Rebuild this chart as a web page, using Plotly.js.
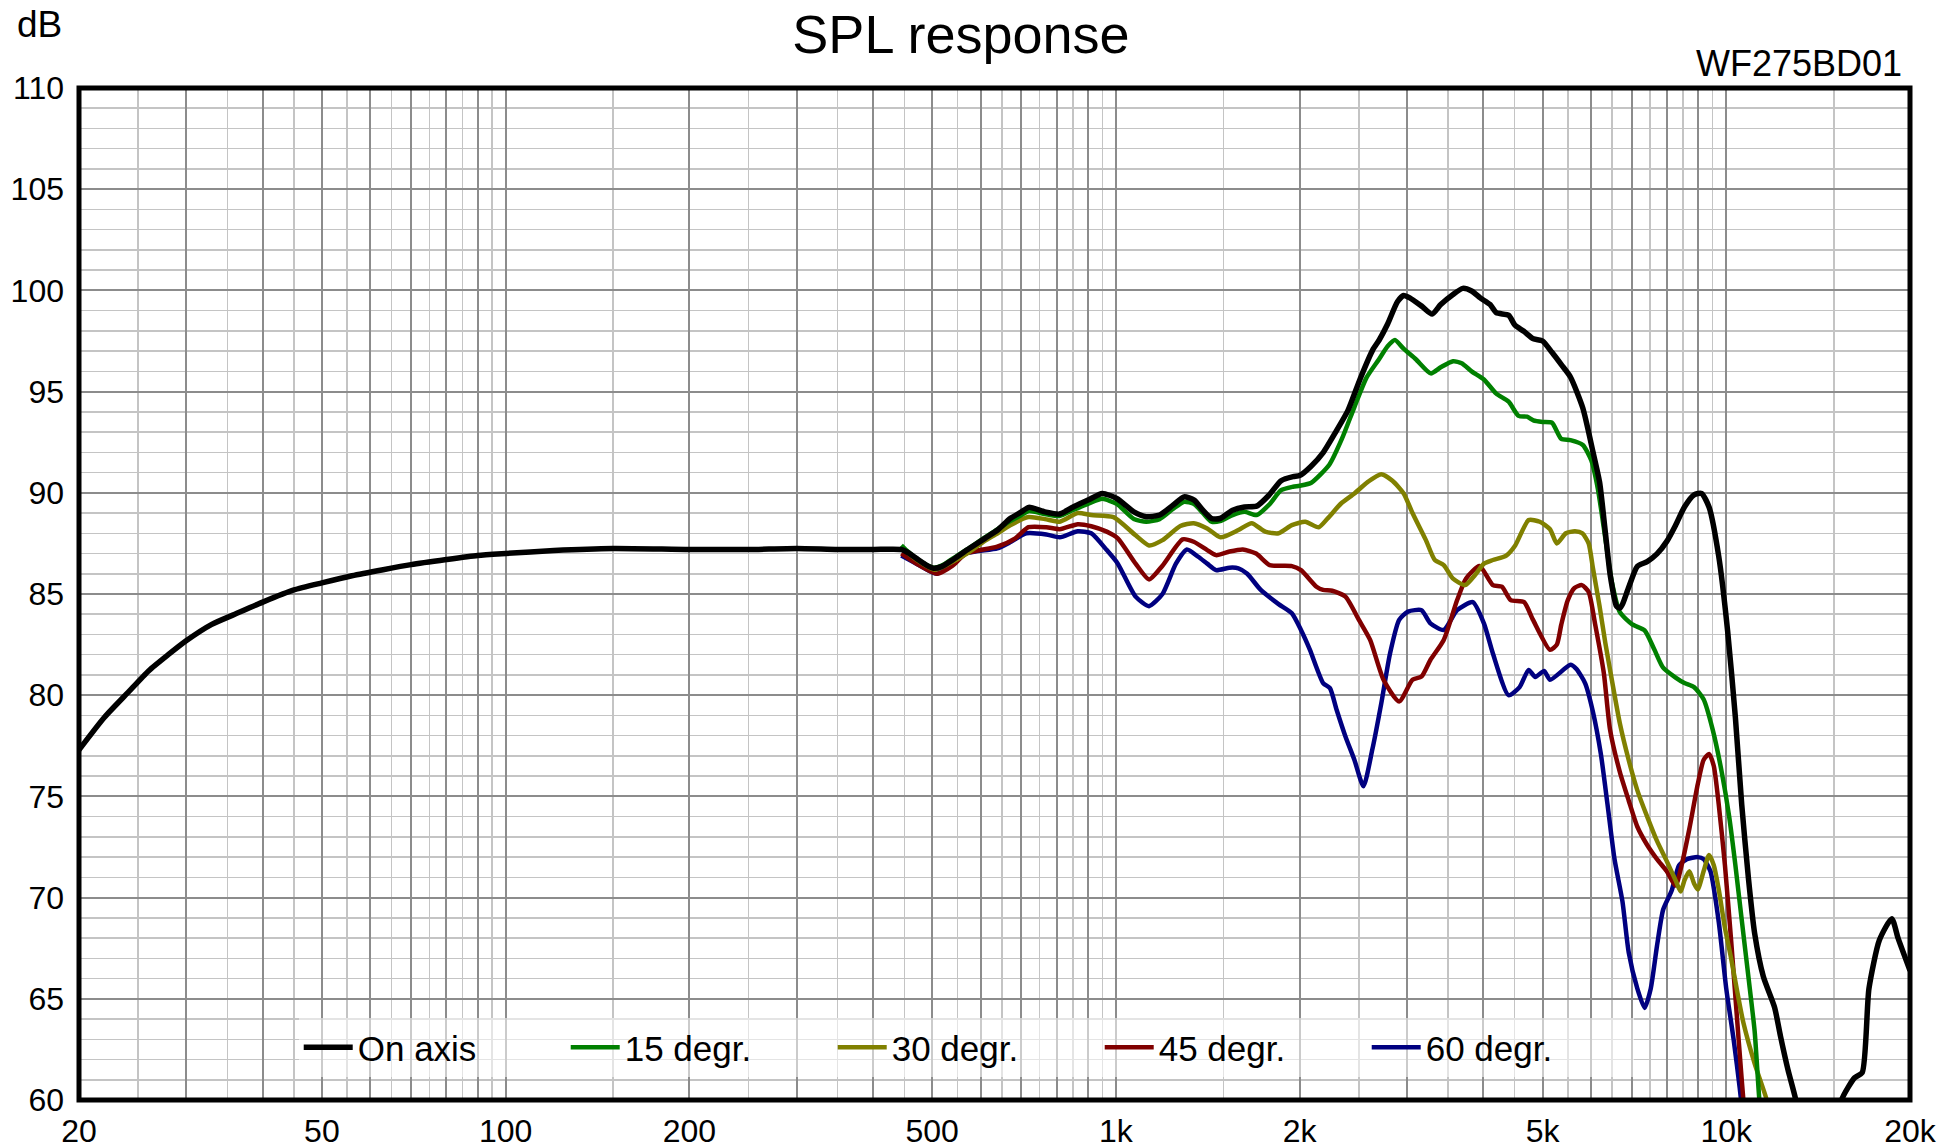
<!DOCTYPE html>
<html>
<head>
<meta charset="utf-8">
<script src="https://cdn.plot.ly/plotly-3.0.1.min.js"></script>
<style>
html,body{margin:0;padding:0;background:#fff;}
#chart{width:1939px;height:1148px;}
</style>
</head>
<body>
<div id="chart"></div>
<script>
// ---------- data ----------
const seriesNames = ["On axis", "15 degr.", "30 degr.", "45 degr.", "60 degr."];
const seriesColors = ["#000000", "#008000", "#808000", "#800000", "#000080"];

const onAxisFreq = [20,22,24,26,28,30,33,36,40,45,50,56,63,70,80,90,100,120,150,200,250,300,350,400,445,456,471,489,503,518,540,570,610,640,671,700,720,765,808,851,900,950,1003,1070,1121,1179,1240,1293,1343,1388,1434,1481,1553,1624,1700,1781,1865,1951,2000,2086,2187,2291,2400,2515,2635,2700,2787,2892,2960,3030,3175,3296,3405,3567,3700,3826,3953,4103,4199,4400,4505,4659,4830,5000,5181,5367,5555,5820,6045,6200,6335,6454,6607,6694,6762,6920,7150,7420,7699,7990,8260,8540,8855,9110,9370,9720,10050,10350,10600,10870,11130,11500,12000,12270,12620,13000,13700,14790,15450,16230,16700,17130,17820,18670,19120,20000];
const onAxisDb = [77.3,78.9,80.1,81.2,82.0,82.7,83.5,84.0,84.6,85.2,85.55,85.9,86.2,86.45,86.7,86.9,87.0,87.15,87.25,87.2,87.2,87.25,87.2,87.2,87.2,87.05,86.76,86.43,86.27,86.35,86.68,87.17,87.75,88.16,88.73,89.06,89.28,89.06,88.95,89.3,89.64,89.97,89.72,89.06,88.82,88.9,89.39,89.8,89.64,89.14,88.73,88.73,89.14,89.3,89.34,89.88,90.6,90.8,90.85,91.3,92.0,93.0,94.07,95.66,97.06,97.55,98.34,99.44,99.75,99.63,99.2,98.83,99.3,99.8,100.1,99.97,99.63,99.3,98.9,98.77,98.28,97.98,97.61,97.5,96.94,96.33,95.72,94.19,92.05,90.53,88.08,85.94,84.41,84.3,84.5,85.33,86.37,86.6,86.98,87.6,88.4,89.3,89.9,89.97,89.3,86.86,83.19,78.9,74.6,70.98,68.23,66.1,64.57,63.15,61.5,60.0,56.0,56.0,60.0,61.1,61.35,65.5,67.9,68.96,68.0,66.4];

const deg15Freq = [445,456,471,489,503,518,540,570,610,640,671,700,720,765,808,851,900,950,1003,1070,1121,1179,1240,1293,1343,1388,1434,1481,1553,1624,1700,1781,1865,1951,2000,2090,2238,2345,2456,2575,2698,2787,2865,2960,3100,3280,3405,3567,3685,3826,4008,4199,4400,4567,4717,4830,5000,5181,5367,5555,5820,6010,6160,6335,6490,6694,7013,7348,7620,7880,8260,8540,8855,9180,9500,9830,10110,10350,10600,10870,11130,11330,11600];
const deg15Db = [87.4,87.1,86.76,86.45,86.3,86.4,86.75,87.2,87.8,88.2,88.6,88.9,89.1,88.95,88.85,89.15,89.45,89.7,89.45,88.7,88.57,88.7,89.2,89.56,89.45,89.0,88.57,88.6,88.9,89.06,88.9,89.4,90.13,90.3,90.35,90.5,91.4,92.66,94.2,95.7,96.6,97.24,97.55,97.12,96.6,95.9,96.2,96.5,96.4,96.0,95.6,94.9,94.5,93.8,93.76,93.58,93.5,93.46,92.66,92.6,92.36,91.6,90.2,87.77,85.63,84.1,83.5,83.2,82.27,81.36,80.87,80.6,80.4,79.8,78.3,76.2,74.0,71.6,68.9,66.1,63.4,60.0,57.0];

const deg30Freq = [445,471,505,540,570,608,640,671,719,765,809,866,911,991,1077,1133,1192,1275,1341,1411,1484,1587,1669,1756,1847,1942,2043,2149,2222,2338,2459,2587,2721,2838,2961,3061,3220,3330,3444,3563,3734,3876,4008,4145,4360,4510,4744,4948,5143,5277,5460,5650,5810,5950,6045,6200,6335,6490,6694,6920,7150,7420,7699,7990,8260,8420,8540,8700,8855,8980,9180,9370,9540,9720,9950,10184,10430,10670,11130,11650,12000];
const deg30Db = [87.3,86.7,86.2,86.6,87.0,87.6,88.0,88.4,88.8,88.7,88.57,89.0,88.9,88.8,87.9,87.4,87.66,88.36,88.5,88.24,87.8,88.16,88.5,88.08,88.0,88.4,88.57,88.3,88.73,89.47,89.97,90.54,90.92,90.6,89.97,89.0,87.66,86.68,86.43,85.77,85.44,85.94,86.5,86.68,86.9,87.4,88.65,88.57,88.2,87.5,88.0,88.1,88.0,87.5,86.3,84.4,82.6,80.8,78.6,76.8,75.3,74.0,72.8,71.8,70.85,70.3,70.85,71.3,70.7,70.4,71.3,72.1,71.6,70.4,68.5,67.0,65.3,63.8,61.8,60.0,58.0];

const deg45Freq = [445,471,509,540,568,639,684,719,769,809,866,911,966,1007,1077,1133,1192,1286,1341,1411,1459,1535,1614,1697,1786,1942,2010,2131,2185,2261,2377,2501,2609,2744,2911,3061,3167,3275,3444,3623,3747,3941,4145,4288,4435,4664,4824,5143,5277,5367,5500,5640,5800,5950,6098,6300,6450,6694,6920,7150,7420,7699,7990,8260,8450,8700,8980,9180,9370,9540,9720,9950,10184,10380,10600,10870];
const deg45Db = [87.0,86.5,86.0,86.4,87.0,87.34,87.75,88.3,88.3,88.2,88.45,88.35,88.08,87.75,86.5,85.72,86.4,87.7,87.58,87.17,86.92,87.1,87.2,87.0,86.43,86.38,86.18,85.36,85.2,85.16,84.87,83.72,82.73,80.76,79.69,80.76,80.92,81.74,82.73,84.7,85.77,86.38,85.44,85.36,84.7,84.6,83.72,82.24,82.5,83.5,84.7,85.3,85.44,85.1,83.5,81.1,78.3,76.2,74.8,73.5,72.6,71.9,71.3,70.6,71.6,73.4,75.6,76.8,77.1,76.5,74.6,71.6,67.9,64.6,61.0,57.0];

const deg60Freq = [445,471,509,568,639,673,713,769,809,866,911,966,1007,1077,1133,1192,1254,1307,1364,1411,1459,1535,1587,1641,1727,1847,1942,2010,2079,2185,2242,2299,2377,2459,2544,2630,2721,2813,2911,3010,3167,3275,3444,3623,3843,4008,4145,4398,4586,4744,4866,5030,5143,5555,5680,5870,6045,6230,6389,6560,6760,6920,7150,7348,7520,7699,7880,8140,8370,8620,8980,9180,9420,9720,10000,10280,10520,10800];
const deg60Db = [86.9,86.5,86.0,87.0,87.25,87.58,88.0,87.94,87.8,88.1,88.0,87.17,86.5,84.87,84.4,85.0,86.5,87.2,86.84,86.5,86.18,86.3,86.27,86.0,85.2,84.5,84.05,83.22,82.24,80.6,80.35,79.28,77.96,76.8,75.5,77.3,79.6,82.07,83.72,84.13,84.2,83.55,83.22,84.2,84.6,83.55,82.07,80.0,80.4,81.25,80.9,81.2,80.76,81.5,81.3,80.6,79.2,77.1,74.6,71.9,69.8,67.3,65.5,64.55,65.5,67.6,69.4,70.35,71.6,71.9,72.0,71.9,71.3,68.8,65.5,63.0,60.6,57.5];

const allFreq = [onAxisFreq, deg15Freq, deg30Freq, deg45Freq, deg60Freq];
const allDb = [onAxisDb, deg15Db, deg30Db, deg45Db, deg60Db];

const xLabelVals = [20, 50, 100, 200, 500, 1000, 2000, 5000, 10000, 20000];
const xLabelText = ["20", "50", "100", "200", "500", "1k", "2k", "5k", "10k", "20k"];
const yLabelVals = [60, 65, 70, 75, 80, 85, 90, 95, 100, 105, 110];
const yLabelText = ["60", "65", "70", "75", "80", "85", "90", "95", "100", "105", "110"];

// ---------- grid construction ----------
const majorX = [], minorX = [];
[10, 100, 1000, 10000].forEach(d => {
  for (let k = 1; k <= 9; k++) {
    const v = k * d, m = (k + 0.5) * d;
    if (v >= 20 && v <= 20000) majorX.push(v);
    if (m > 20 && m < 20000) minorX.push(m);
  }
});
majorX.push(20000);
const majorXText = majorX.map(v => {
  const i = xLabelVals.indexOf(v);
  return i >= 0 ? xLabelText[i] : "";
});

const FONT = "Liberation Sans, Arial, Helvetica, sans-serif";

const traces = allFreq.map((fr, i) => ({
  type: "scatter",
  mode: "lines",
  name: seriesNames[i],
  x: fr,
  y: allDb[i],
  line: { color: seriesColors[i], width: i === 0 ? 5.5 : 4.5, shape: "spline", smoothing: 0.6 },
  hoverinfo: "skip"
}));
// draw black on top
const ordered = [traces[4], traces[3], traces[2], traces[1], traces[0]];

const layout = {
  width: 1939,
  height: 1148,
  margin: { l: 79, r: 29, t: 88, b: 48, pad: 0 },
  paper_bgcolor: "#ffffff",
  plot_bgcolor: "#ffffff",
  font: { family: FONT, color: "#000000", size: 32 },
  showlegend: true,
  title: {
    text: "SPL response",
    font: { family: FONT, size: 54, color: "#000" },
    xref: "container", yref: "container",
    x: 0.4956, xanchor: "center",
    y: 0.970, yanchor: "middle"
  },
  xaxis: {
    type: "log",
    range: [Math.log10(20), Math.log10(20000)],
    tickmode: "array",
    tickvals: majorX,
    ticktext: majorXText,
    showgrid: true,
    gridcolor: "#8c8c8c",
    gridwidth: 2,
    zeroline: false,
    showline: false,
    ticks: "",
    ticklabelstandoff: 9,
    tickfont: { family: FONT, size: 32, color: "#000" },
    minor: { tickmode: "array", tickvals: minorX, showgrid: true, gridcolor: "#c4c4c4", gridwidth: 1.5, ticks: "" }
  },
  yaxis: {
    range: [60, 110],
    tickmode: "array",
    tickvals: yLabelVals,
    ticktext: yLabelText,
    showgrid: true,
    gridcolor: "#8c8c8c",
    gridwidth: 2,
    zeroline: false,
    showline: false,
    ticks: "",
    ticklabelstandoff: 14,
    tickfont: { family: FONT, size: 32, color: "#000" },
    minor: { dtick: 1, showgrid: true, gridcolor: "#c4c4c4", gridwidth: 1.5, ticks: "" }
  },
  legend: {
    orientation: "h",
    x: 0.120, xanchor: "left",
    y: 0.052, yanchor: "middle",
    bgcolor: "rgba(255,255,255,0.55)",
    borderwidth: 0,
    font: { family: FONT, size: 35, color: "#000" },
    itemwidth: 49,
    entrywidth: 203,
    entrywidthmode: "pixels",
    traceorder: "reversed",
    itemclick: false
  },
  shapes: [{
    type: "rect", xref: "paper", yref: "paper",
    x0: 0, x1: 1, y0: 0, y1: 1,
    line: { color: "#000", width: 5 },
    layer: "above"
  }],
  annotations: [
    { text: "dB", xref: "paper", yref: "paper", x: -0.0218, y: 1.063, xanchor: "center", yanchor: "middle", showarrow: false, font: { family: FONT, size: 37, color: "#000" } },
    { text: "WF275BD01", xref: "paper", yref: "paper", x: 0.9967, y: 1.024, xanchor: "right", yanchor: "middle", showarrow: false, font: { family: FONT, size: 36, color: "#000" } }
  ]
};

Plotly.newPlot("chart", ordered, layout, { staticPlot: true, displayModeBar: false });
</script>
</body>
</html>
